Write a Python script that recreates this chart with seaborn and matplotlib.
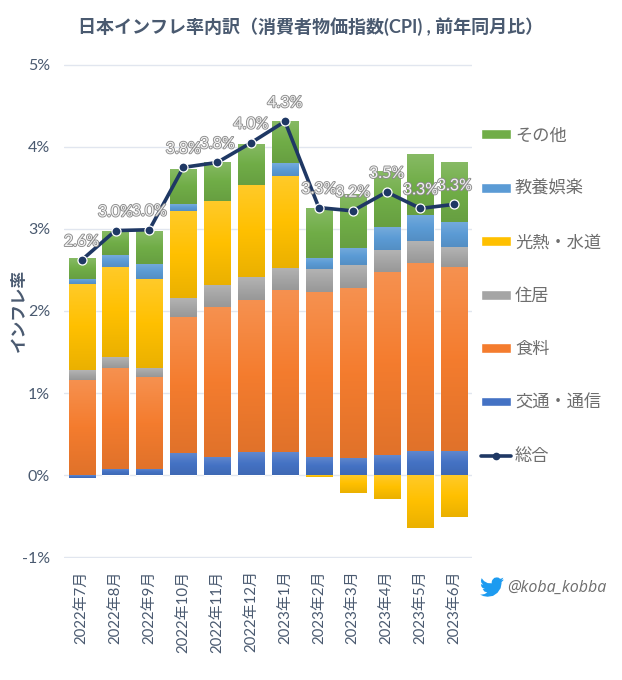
import numpy as np
import pandas as pd
import seaborn as sns
import matplotlib.pyplot as plt
import matplotlib.patheffects as pe
from matplotlib.colors import LinearSegmentedColormap, to_rgb
from matplotlib.lines import Line2D
from matplotlib.patches import Patch, Polygon

months = ["2022年7月", "2022年8月", "2022年9月", "2022年10月", "2022年11月", "2022年12月",
          "2023年1月", "2023年2月", "2023年3月", "2023年4月", "2023年5月", "2023年6月"]

transport = [-0.03, 0.08, 0.08, 0.27, 0.22, 0.28, 0.28, 0.22, 0.21, 0.24, 0.30, 0.30]
food = [1.16, 1.23, 1.11, 1.66, 1.83, 1.86, 1.97, 2.01, 2.07, 2.24, 2.29, 2.24]
housing = [0.12, 0.13, 0.115, 0.23, 0.27, 0.27, 0.28, 0.28, 0.28, 0.26, 0.26, 0.235]
energy = [1.05, 1.10, 1.08, 1.06, 1.02, 1.13, 1.12, -0.02, -0.22, -0.29, -0.65, -0.51]
culture = [0.065, 0.14, 0.19, 0.08, 0.0, 0.0, 0.15, 0.14, 0.21, 0.28, 0.32, 0.31]
other = [0.25, 0.29, 0.40, 0.43, 0.48, 0.50, 0.52, 0.60, 0.65, 0.68, 0.74, 0.73]
total = [2.62, 2.98, 2.99, 3.75, 3.81, 4.05, 4.31, 3.26, 3.22, 3.45, 3.25, 3.30]
total_labels = ["2.6%", "3.0%", "3.0%", "3.8%", "3.8%", "4.0%", "4.3%", "3.3%", "3.2%", "3.5%", "3.3%", "3.3%"]

series = ["交通・通信", "食料", "住居", "光熱・水道", "教養娯楽", "その他"]
values = [transport, food, housing, energy, culture, other]
colors = ["#4472C4", "#F47C2E", "#A5A5A5", "#FFC000", "#5B9BD5", "#70AD47"]
line_color = "#1F3864"
text_color = "#4A5A70"
label_color = "#6E6E6E"

sns.set_theme(style="white")
plt.rcParams["font.family"] = ["Lato", "Noto Sans CJK JP", "DejaVu Sans"]

fig = plt.figure(figsize=(6.22, 6.80), dpi=100)
ax = fig.add_axes([64 / 622, 1 - 558 / 680, 408 / 622, 494 / 680])

df = pd.DataFrame(dict(zip(series, values)))
df["month"] = months

pos_bottom = np.zeros(len(months))
neg_bottom = np.zeros(len(months))
for name, color in zip(series, colors):
    vals = df[name].to_numpy()
    bottoms = np.where(vals >= 0, pos_bottom, neg_bottom)
    sns.barplot(data=df, x="month", y=name, color=color, bottom=bottoms, width=0.77,
                saturation=1, ax=ax, zorder=2)
    pos_bottom += np.clip(vals, 0, None)
    neg_bottom += np.clip(vals, None, 0)


# vertical gradient on each segment, like the office chart fill
def shade_bars(ax):
    for bar in list(ax.patches):
        rgb = np.array(to_rgb(bar.get_facecolor()))
        light = rgb + (1 - rgb) * 0.16
        dark = rgb * 0.92
        cmap = LinearSegmentedColormap.from_list("g", [light, rgb, dark])
        x0, w = bar.get_x(), bar.get_width()
        y0, h = bar.get_y(), bar.get_height()
        if h == 0:
            continue
        img = ax.imshow(np.linspace(0, 1, 64).reshape(-1, 1), cmap=cmap, aspect="auto",
                        extent=(x0, x0 + w, min(y0, y0 + h), max(y0, y0 + h)), zorder=2.1)
        img.set_clip_path(bar)


shade_bars(ax)

x_pos = np.arange(len(months))
sns.lineplot(x=x_pos, y=total, color=line_color, linewidth=2.6, marker="o", markersize=6.5,
             markeredgecolor="white", markeredgewidth=0.9, ax=ax, zorder=4)

for x, y, lab in zip(x_pos, total, total_labels):
    ax.annotate(lab, (x, y), xytext=(0, 8), textcoords="offset points", ha="center", va="bottom",
                fontsize=11.5, color="#F2F2F2", zorder=5,
                path_effects=[pe.withStroke(linewidth=1.3, foreground="#8C8C8C")])

ax.set_xlim(-0.52, 11.52)
ax.set_ylim(-1.01, 5.01)
ax.set_yticks(range(-1, 6))
ax.set_yticklabels([f"{v}%" for v in range(-1, 6)], fontsize=11.5, color=text_color)
ax.set_xticks(x_pos)
ax.set_xticklabels(months, rotation=90, fontsize=10.8, color=text_color)
ax.tick_params(axis="both", length=0)
ax.tick_params(axis="x", pad=9)
ax.tick_params(axis="y", pad=10)
ax.grid(axis="y", color="#E1E6EF", linewidth=1, zorder=0)
ax.set_axisbelow(True)
ax.set_xlabel("")
ax.set_ylabel("")
sns.despine(ax=ax, left=True, bottom=True)

fig.text(19 / 622, 1 - 310 / 680, "インフレ率", rotation=90, ha="center", va="center",
         fontsize=12, fontweight="bold", color=text_color)
fig.text(311 / 622, 1 - 27 / 680, "日本インフレ率内訳（消費者物価指数(CPI) , 前年同月比）",
         ha="center", va="center", fontsize=13, fontweight="bold", color=text_color)

handles = [Patch(facecolor=c, label=s) for s, c in zip(series[::-1], colors[::-1])]
handles.append(Line2D([0], [0], color=line_color, linewidth=2.6, marker="o", markersize=4.5, label="総合"))
fig.legend(handles=handles, loc="upper left", bbox_to_anchor=(466 / 622, 1 - 112 / 680), frameon=False,
           fontsize=12.4, labelcolor=label_color, labelspacing=2.17, handlelength=1.7,
           handleheight=0.5, handletextpad=0.25)

# twitter bird and handle
bird = [(23.95, 4.57), (21.13, 5.35), (22.6, 4.3), (23.29, 2.62), (21.8, 3.4), (20.16, 3.81), (18.5, 2.6),
        (16.6, 2.4), (14.3, 2.9), (12.3, 5.0), (11.65, 7.0), (11.78, 8.29), (7.69, 8.1), (4.07, 6.13),
        (1.64, 3.16), (0.97, 5.64), (1.3, 7.6), (3.16, 9.73), (0.93, 9.12), (1.4, 11.5), (2.6, 13.0),
        (4.88, 14.0), (2.67, 14.09), (4.3, 16.4), (7.27, 17.51), (4.5, 19.1), (1.17, 19.61), (0.0, 19.54),
        (3.4, 21.1), (7.56, 21.75), (13.0, 20.9), (17.5, 17.8), (20.6, 13.2), (21.56, 8.4), (21.54, 7.14),
        (24.0, 4.59)]
bird_xy = [((480 + vx) / 622, 1 - (575 + vy) / 680) for vx, vy in bird]
fig.add_artist(Polygon(bird_xy, closed=True, facecolor="#1D9BF0", edgecolor="none", transform=fig.transFigure))
fig.text(507 / 622, 1 - 588 / 680, "@koba_kobba", ha="left", va="center", fontsize=11.5,
         style="italic", family="Open Sans", color=label_color)

fig.savefig("out.png", dpi=100)
